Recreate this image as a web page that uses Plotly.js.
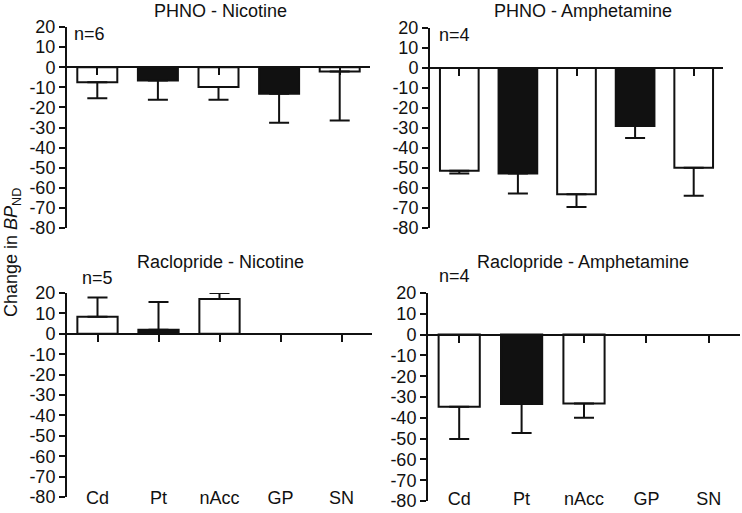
<!DOCTYPE html>
<html>
<head>
<meta charset="utf-8">
<script src="https://cdn.plot.ly/plotly-3.0.1.min.js"></script>
<style>html,body{margin:0;padding:0;background:#fff;}#chart{width:742px;height:513px;}</style>
</head>
<body>
<div id="chart"></div>
<script>
// ---- data ----
const categories = ['Cd', 'Pt', 'nAcc', 'GP', 'SN'];
const yTicks = [20, 10, 0, -10, -20, -30, -40, -50, -60, -70, -80];
const yTickText = ['20', '10', '0', '-10', '-20', '-30', '-40', '-50', '-60', '-70', '-80'];

const phnoNicotine    = [-7.5, -6.6, -9.9, -13.2, -2.2];
const phnoNicotineErr = [7.9, 9.6, 6.3, 14.4, 24.3];

const phnoAmph        = [-51.4, -52.7, -63.1, -29.0, -49.9];
const phnoAmphErr     = [1.3, 10.0, 6.4, 6.0, 14.0];

const racNicotine     = [8.3, 2.0, 17.0, null, null];
const racNicotineErr  = [9.5, 13.6, 3.0, null, null];

const racAmph         = [-34.7, -33.4, -33.1, null, null];
const racAmphErr      = [15.5, 13.9, 6.9, null, null];

const panelTitles = ['PHNO - Nicotine', 'PHNO - Amphetamine', 'Raclopride - Nicotine', 'Raclopride - Amphetamine'];
const nLabels = ['n=6', 'n=4', 'n=5', 'n=4'];
const yAxisTitle = 'Change in <i>BP</i><sub>ND</sub>';

// ---- styling / layout ----
const W = 742, H = 513;
const FONT = 'Liberation Sans, Arial, Helvetica, sans-serif';
const barFill = ['#ffffff', '#111111', '#ffffff', '#111111', '#ffffff'];

// panel geometry in px: [left, right, top, bottom]
const panels = [
  {px: [67, 370, 27, 228], vals: phnoNicotine, errs: phnoNicotineErr, labels: false, nPos: [72, 34], tPos: [220, 11]},
  {px: [430, 723, 28, 228], vals: phnoAmph, errs: phnoAmphErr, labels: false, nPos: [437, 35], tPos: [583, 11]},
  {px: [67, 372, 293, 497], vals: racNicotine, errs: racNicotineErr, labels: true, nPos: [80, 278], tPos: [220, 262]},
  {px: [428, 740, 293, 501], vals: racAmph, errs: racAmphErr, labels: true, nPos: [437, 276], tPos: [583, 262]}
];

const traces = [];
const layout = {
  width: W, height: H,
  margin: {l: 0, r: 0, t: 0, b: 0},
  paper_bgcolor: '#ffffff', plot_bgcolor: 'rgba(0,0,0,0)',
  showlegend: false,
  font: {family: FONT, size: 18, color: '#111'},
  annotations: []
};

panels.forEach((p, i) => {
  const k = i === 0 ? '' : String(i + 1);
  const xd = [p.px[0] / W, p.px[1] / W];
  const yd = [1 - p.px[3] / H, 1 - p.px[2] / H];
  const plus = p.vals.map((v, j) => v === null ? null : (v >= 0 ? p.errs[j] : 0));
  const minus = p.vals.map((v, j) => v === null ? null : (v < 0 ? p.errs[j] : 0));
  traces.push({
    type: 'bar', x: categories, y: p.vals,
    xaxis: 'x' + k, yaxis: 'y' + k,
    width: 0.66,
    marker: {color: barFill, line: {color: '#111', width: 2}},
    error_y: {type: 'data', symmetric: false, array: plus, arrayminus: minus,
              color: '#111', thickness: 2, width: 10},
    hoverinfo: 'x+y'
  });
  layout['xaxis' + k] = {
    domain: xd, anchor: 'free', position: yd[0] + 0.8 * (yd[1] - yd[0]),
    type: 'category', range: [-0.5, 4.5],
    showline: true, linecolor: '#111', linewidth: 2,
    ticks: 'outside', ticklen: 7, tickwidth: 2, tickcolor: '#111',
    showgrid: false, zeroline: false,
    showticklabels: p.labels,
    ticklabelstandoff: p.labels ? 141 : 0,
    tickfont: {family: FONT, size: 18, color: '#111'},
    fixedrange: true
  };
  layout['yaxis' + k] = {
    domain: yd, anchor: 'x' + k,
    range: [-80, 20], tickmode: 'array', tickvals: yTicks, ticktext: yTickText,
    showline: true, linecolor: '#111', linewidth: 2,
    ticks: 'outside', ticklen: 6, tickwidth: 2, tickcolor: '#111',
    showgrid: false, zeroline: false,
    tickfont: {family: FONT, size: 18, color: '#111'},
    fixedrange: true
  };
  layout.annotations.push({
    text: panelTitles[i], xref: 'paper', yref: 'paper',
    x: p.tPos[0] / W, y: 1 - p.tPos[1] / H, xanchor: 'center', yanchor: 'middle',
    showarrow: false, font: {family: FONT, size: 18, color: '#111'}
  });
  layout.annotations.push({
    text: nLabels[i], xref: 'paper', yref: 'paper',
    x: p.nPos[0] / W, y: 1 - p.nPos[1] / H, xanchor: 'left', yanchor: 'middle',
    showarrow: false, font: {family: FONT, size: 18, color: '#111'}
  });
});

layout.annotations.push({
  text: yAxisTitle, xref: 'paper', yref: 'paper',
  x: 12 / W, y: 1 - 253 / H, xanchor: 'center', yanchor: 'middle',
  textangle: -90, showarrow: false, font: {family: FONT, size: 18, color: '#111'}
});

Plotly.newPlot('chart', traces, layout, {displayModeBar: false, staticPlot: true});
</script>
</body>
</html>
